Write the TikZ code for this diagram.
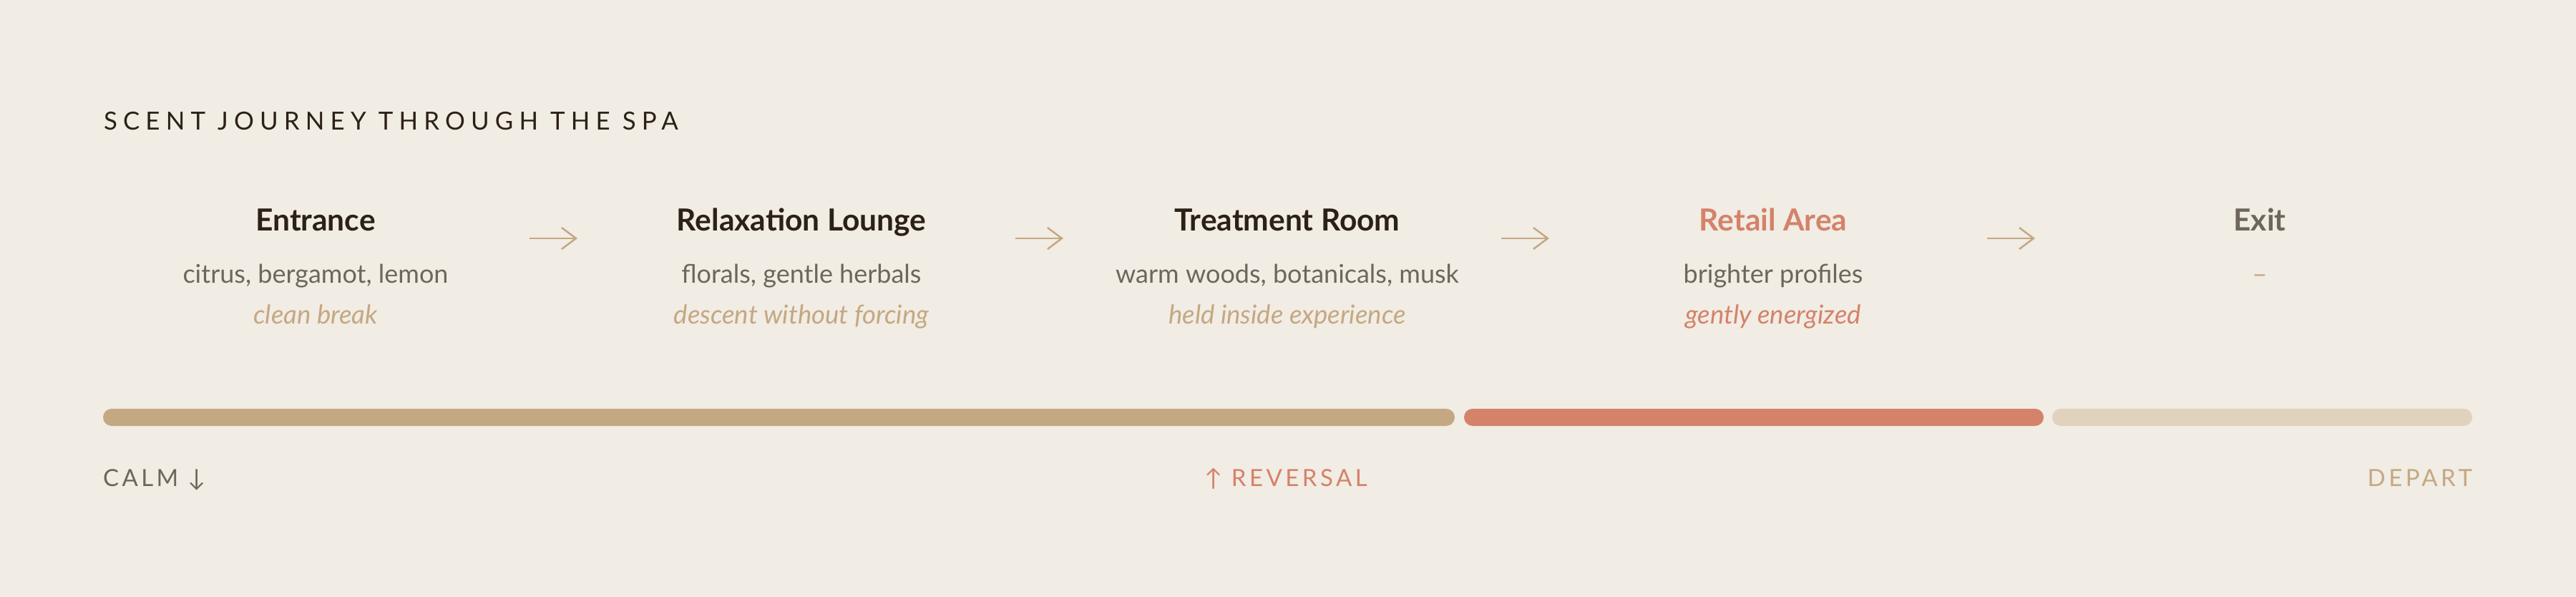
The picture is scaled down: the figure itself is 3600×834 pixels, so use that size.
\documentclass[tikz,border=0pt]{standalone}
\usepackage{fontspec}
\setmainfont{Lato}
\newfontfamily\trackfont[LetterSpace=23.5]{Lato}
\newfontfamily\labelfont[LetterSpace=13.5]{Lato}
\usetikzlibrary{arrows.meta}
\definecolor{bg}{HTML}{F1ECE4}
\definecolor{ink}{HTML}{2B2117}
\definecolor{muted}{HTML}{6E665C}
\definecolor{tan}{HTML}{C4A882}
\definecolor{coral}{HTML}{D4826A}
\definecolor{pale}{HTML}{E0D2BD}
\tikzset{
  x=1pt, y=-1pt,
  txt/.style={inner sep=0pt, outer sep=0pt, anchor=base},
  heading/.style={txt, font=\fontsize{42.5}{48}\selectfont\bfseries, text=ink},
  notes/.style={txt, font=\fontsize{36}{42}\selectfont, text=muted},
  mood/.style={txt, font=\fontsize{36.5}{42}\selectfont\itshape, text=tan},
  label/.style={txt, font=\fontsize{33}{40}\selectfont\labelfont},
  flow/.style={draw=tan, line width=2.5pt, -{Straight Barb[length=20pt,width=30pt,line width=2.5pt]}},
  barseg/.style={rounded corners=12pt}
}
\begin{document}
\begin{tikzpicture}
\useasboundingbox[fill=bg] (0,0) rectangle (3600,834);
% title
\node[txt, anchor=base west, font=\fontsize{34.8}{40}\selectfont\trackfont, text=ink] (title) at (145,182) {SCENT JOURNEY THROUGH THE SPA};
% stages
\node[heading] (h1) at (441,322) {Entrance};
\node[heading] (h2) at (1120,322) {Relaxation Lounge};
\node[heading] (h3) at (1799,322) {Treatment Room};
\node[heading, text=coral] (h4) at (2478,322) {Retail Area};
\node[heading, text=muted] (h5) at (3158,322) {Exit};
\node[notes] (n1) at (441,395) {citrus, bergamot, lemon};
\node[notes] (n2) at (1120,395) {florals, gentle herbals};
\node[notes] (n3) at (1799,395) {warm woods, botanicals, musk};
\node[notes] (n4) at (2478,395) {brighter profiles};
\node[notes, text=tan] (n5) at (3158,395) {–};
\node[mood] (m1) at (441,452) {clean break};
\node[mood] (m2) at (1120,452) {descent without forcing};
\node[mood] (m3) at (1799,452) {held inside experience};
\node[mood, text=coral] (m4) at (2478,452) {gently energized};
% arrows
\coordinate (a1s) at (740,333); \coordinate (a1e) at (807,333);
\coordinate (a2s) at (1419,333); \coordinate (a2e) at (1486,333);
\coordinate (a3s) at (2098,333); \coordinate (a3e) at (2165,333);
\coordinate (a4s) at (2777,333); \coordinate (a4e) at (2844,333);
\draw[flow] (a1s) -- (a1e);
\draw[flow] (a2s) -- (a2e);
\draw[flow] (a3s) -- (a3e);
\draw[flow] (a4s) -- (a4e);
% bars
\fill[barseg, tan] (144,571) rectangle (2033,595);
\fill[barseg, coral] (2046,571) rectangle (2856,595);
\fill[barseg, pale] (2868,571) rectangle (3455,595);
% labels
\node[label, anchor=base west, text=muted] (calm) at (144,679) {CALM ↓};
\node[label, text=coral] (rev) at (1797,679) {↑ REVERSAL};
\node[label, anchor=base east, text=tan] (dep) at (3455,679) {DEPART};
\end{tikzpicture}
\end{document}
